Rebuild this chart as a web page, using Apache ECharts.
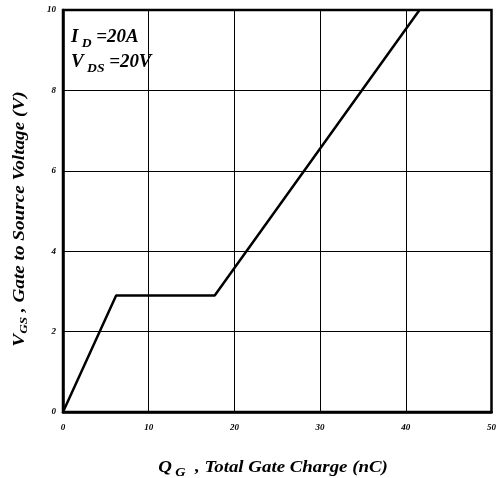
<!DOCTYPE html>
<html>
<head>
<meta charset="utf-8">
<script src="https://cdn.jsdelivr.net/npm/echarts@6/dist/echarts.min.js"></script>
<style>html,body{margin:0;padding:0;background:#fff}#c{width:499px;height:478px}</style>
</head>
<body>
<div id="c"></div>
<script>
var qg = [0, 6.2, 17.7, 41.6];
var vgs = [0, 2.9, 2.9, 10];
var xTicks = [0, 10, 20, 30, 40, 50];
var yTicks = [0, 2, 4, 6, 8, 10];
var xTitle = ['Q', ' G', '  , Total Gate Charge (nC)'];
var yTitle = ['V', 'GS', ' , Gate to Source Voltage (V)'];
var notes = [['I', ' D', ' =20A'], ['V', ' DS', ' =20V']];

var FONT = '"Liberation Serif", "Times New Roman", serif';
function richStyle(big, small, drop) {
  return {
    b: {fontFamily: FONT, fontSize: big, fontWeight: 'bold', fontStyle: 'italic', fill: '#000', verticalAlign: 'bottom', lineHeight: big + 8},
    s: {fontFamily: FONT, fontSize: small, fontWeight: 'bold', fontStyle: 'italic', fill: '#000', verticalAlign: 'bottom', lineHeight: big + 8, padding: [0, 0, -drop, 0]}
  };
}
function rt(parts) { return '{b|' + parts[0] + '}{s|' + parts[1] + '}{b|' + parts[2] + '}'; }

var chart = echarts.init(document.getElementById('c'), null, {renderer: 'canvas'});
var pts = qg.map(function (q, i) { return [q, vgs[i]]; });
chart.setOption({
  animation: false,
  backgroundColor: '#fff',
  grid: {left: 63, right: 3.5, top: 10, bottom: 66, show: true, borderColor: '#000', borderWidth: 2.5, backgroundColor: 'transparent'},
  graphic: [
    {type: 'text', x: 71, y: 20, scaleX: 1.05, style: {text: rt(notes[0]), rich: richStyle(18, 13, 4), align: 'left', verticalAlign: 'top'}},
    {type: 'text', x: 71, y: 45, scaleX: 1.05, style: {text: rt(notes[1]), rich: richStyle(18, 13, 4), align: 'left', verticalAlign: 'top'}},
    {type: 'text', x: 273, y: 464, scaleX: 1.18, style: {text: rt(xTitle), rich: richStyle(16, 12, 3), align: 'center', verticalAlign: 'middle'}},
    {type: 'text', x: 16, y: 219, rotation: Math.PI / 2, scaleX: 1.2, style: {text: rt(yTitle), rich: richStyle(16, 11, 2), align: 'center', verticalAlign: 'middle'}}
  ],
  xAxis: {
    type: 'value', min: xTicks[0], max: xTicks[xTicks.length - 1], interval: 10,
    axisLine: {show: true, lineStyle: {color: '#000', width: 2.5}},
    axisTick: {show: false},
    splitLine: {show: true, lineStyle: {color: '#000', width: 1}},
    axisLabel: {fontFamily: FONT, fontSize: 9, fontWeight: 'bold', fontStyle: 'italic', color: '#000', margin: 11}
  },
  yAxis: {
    type: 'value', min: yTicks[0], max: yTicks[yTicks.length - 1], interval: 2,
    axisLine: {show: true, lineStyle: {color: '#000', width: 2.5}},
    axisTick: {show: false},
    splitLine: {show: true, lineStyle: {color: '#000', width: 1}},
    axisLabel: {fontFamily: FONT, fontSize: 9, fontWeight: 'bold', fontStyle: 'italic', color: '#000', margin: 7}
  },
  series: [{
    type: 'line', data: pts, showSymbol: false, symbol: 'none',
    lineStyle: {color: '#000', width: 2.5}, clip: true
  }]
});
</script>
</body>
</html>
